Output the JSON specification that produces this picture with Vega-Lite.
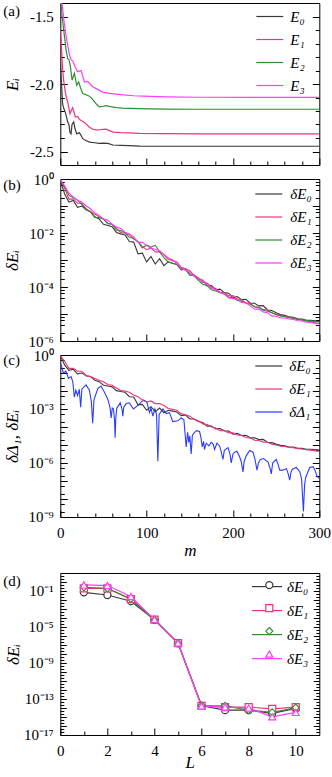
{
"$schema": "https://vega.github.io/schema/vega-lite/v6.json",
"background": "white",
"padding": {"left": 2.3, "top": 1, "right": 0, "bottom": 0},
"config": {
 "view": {"stroke": "#000", "strokeWidth": 1},
 "font": "Liberation Serif",
 "axis": {"grid": false, "domain": false, "labelFont": "Liberation Serif", "labelFontSize": 15, "labelColor": "#000", "titleFont": "Liberation Serif", "titleFontSize": 17, "titleFontWeight": "normal", "titleColor": "#000", "tickColor": "#000", "tickWidth": 1, "labelFlush": false, "labelOverlap": false, "minExtent": 0},
 "legend": {"labelFont": "Liberation Serif", "labelFontSize": 15, "labelFontStyle": "italic", "labelColor": "#000", "symbolStrokeWidth": 1.2, "padding": 0},
 "title": {"font": "Liberation Serif", "fontSize": 15, "fontWeight": "normal", "anchor": "start", "baseline": "top", "color": "#000", "frame": "group"}
},
"datasets": {
 "a": [
{"m":0,"s":"E₀","v":-1.84},{"m":1,"s":"E₀","v":-1.95},{"m":2.7,"s":"E₀","v":-2.15},{"m":4,"s":"E₀","v":-2.18},{"m":5.8,"s":"E₀","v":-2.21},{"m":7,"s":"E₀","v":-2.24},{"m":8.5,"s":"E₀","v":-2.28},{"m":10,"s":"E₀","v":-2.3},{"m":11.2,"s":"E₀","v":-2.36},{"m":12.4,"s":"E₀","v":-2.37},{"m":13.6,"s":"E₀","v":-2.3},{"m":15.5,"s":"E₀","v":-2.28},{"m":17,"s":"E₀","v":-2.33},{"m":19,"s":"E₀","v":-2.37},{"m":22,"s":"E₀","v":-2.36},{"m":24,"s":"E₀","v":-2.38},{"m":26,"s":"E₀","v":-2.405},{"m":30,"s":"E₀","v":-2.42},{"m":34,"s":"E₀","v":-2.43},{"m":40,"s":"E₀","v":-2.435},{"m":45,"s":"E₀","v":-2.44},{"m":50,"s":"E₀","v":-2.438},{"m":55,"s":"E₀","v":-2.44},{"m":61,"s":"E₀","v":-2.452},{"m":70,"s":"E₀","v":-2.455},{"m":80,"s":"E₀","v":-2.457},{"m":92,"s":"E₀","v":-2.46},{"m":120,"s":"E₀","v":-2.461},{"m":300,"s":"E₀","v":-2.461},
{"m":0,"s":"E₁","v":-1.59},{"m":1.5,"s":"E₁","v":-1.75},{"m":2.7,"s":"E₁","v":-1.89},{"m":4,"s":"E₁","v":-1.98},{"m":5.8,"s":"E₁","v":-2.06},{"m":7,"s":"E₁","v":-2.1},{"m":8.5,"s":"E₁","v":-2.13},{"m":10,"s":"E₁","v":-2.18},{"m":11.2,"s":"E₁","v":-2.22},{"m":12.5,"s":"E₁","v":-2.2},{"m":14.3,"s":"E₁","v":-2.175},{"m":16,"s":"E₁","v":-2.21},{"m":17.4,"s":"E₁","v":-2.245},{"m":20,"s":"E₁","v":-2.24},{"m":22,"s":"E₁","v":-2.26},{"m":24,"s":"E₁","v":-2.27},{"m":27,"s":"E₁","v":-2.28},{"m":29.8,"s":"E₁","v":-2.295},{"m":33.7,"s":"E₁","v":-2.32},{"m":38,"s":"E₁","v":-2.335},{"m":41.4,"s":"E₁","v":-2.34},{"m":47,"s":"E₁","v":-2.338},{"m":53,"s":"E₁","v":-2.335},{"m":57,"s":"E₁","v":-2.345},{"m":61,"s":"E₁","v":-2.356},{"m":70,"s":"E₁","v":-2.36},{"m":80,"s":"E₁","v":-2.362},{"m":92,"s":"E₁","v":-2.365},{"m":120,"s":"E₁","v":-2.368},{"m":160,"s":"E₁","v":-2.369},{"m":300,"s":"E₁","v":-2.369},
{"m":0,"s":"E₂","v":-1.3},{"m":0.8,"s":"E₂","v":-1.4},{"m":2.5,"s":"E₂","v":-1.52},{"m":4.7,"s":"E₂","v":-1.64},{"m":6.5,"s":"E₂","v":-1.74},{"m":8.5,"s":"E₂","v":-1.81},{"m":10,"s":"E₂","v":-1.82},{"m":11.5,"s":"E₂","v":-1.86},{"m":13.6,"s":"E₂","v":-1.97},{"m":16.3,"s":"E₂","v":-1.92},{"m":19,"s":"E₂","v":-2.01},{"m":21.3,"s":"E₂","v":-1.985},{"m":23.5,"s":"E₂","v":-2.03},{"m":26,"s":"E₂","v":-2.07},{"m":29.8,"s":"E₂","v":-2.08},{"m":33.7,"s":"E₂","v":-2.09},{"m":37,"s":"E₂","v":-2.11},{"m":39.5,"s":"E₂","v":-2.13},{"m":42,"s":"E₂","v":-2.15},{"m":45.3,"s":"E₂","v":-2.17},{"m":50,"s":"E₂","v":-2.165},{"m":53,"s":"E₂","v":-2.16},{"m":58,"s":"E₂","v":-2.168},{"m":65,"s":"E₂","v":-2.175},{"m":72.3,"s":"E₂","v":-2.178},{"m":90,"s":"E₂","v":-2.182},{"m":122,"s":"E₂","v":-2.186},{"m":160,"s":"E₂","v":-2.187},{"m":300,"s":"E₂","v":-2.187},
{"m":0,"s":"E₃","v":-1.2},{"m":2,"s":"E₃","v":-1.4},{"m":4,"s":"E₃","v":-1.52},{"m":6.6,"s":"E₃","v":-1.64},{"m":8.5,"s":"E₃","v":-1.71},{"m":10.5,"s":"E₃","v":-1.78},{"m":12.4,"s":"E₃","v":-1.82},{"m":14.5,"s":"E₃","v":-1.83},{"m":17,"s":"E₃","v":-1.87},{"m":20.1,"s":"E₃","v":-1.91},{"m":22,"s":"E₃","v":-1.905},{"m":24,"s":"E₃","v":-1.9},{"m":26,"s":"E₃","v":-1.94},{"m":27.9,"s":"E₃","v":-1.985},{"m":31.7,"s":"E₃","v":-1.98},{"m":34.5,"s":"E₃","v":-2.0},{"m":37.5,"s":"E₃","v":-2.02},{"m":43.3,"s":"E₃","v":-2.04},{"m":49,"s":"E₃","v":-2.06},{"m":56.9,"s":"E₃","v":-2.07},{"m":65,"s":"E₃","v":-2.075},{"m":72.3,"s":"E₃","v":-2.08},{"m":85,"s":"E₃","v":-2.087},{"m":95.5,"s":"E₃","v":-2.09},{"m":122,"s":"E₃","v":-2.095},{"m":160,"s":"E₃","v":-2.098},{"m":300,"s":"E₃","v":-2.099}
 ],
 "b": [
{"m":0,"s":"δE₀","v":0.93},{"m":5,"s":"δE₀","v":0.28},{"m":10,"s":"δE₀","v":0.14},{"m":15,"s":"δE₀","v":0.16},{"m":20,"s":"δE₀","v":0.089},{"m":25,"s":"δE₀","v":0.1},{"m":30,"s":"δE₀","v":0.071},{"m":35,"s":"δE₀","v":0.063},{"m":40,"s":"δE₀","v":0.04},{"m":45,"s":"δE₀","v":0.033},{"m":50,"s":"δE₀","v":0.021},{"m":55,"s":"δE₀","v":0.019},{"m":60,"s":"δE₀","v":0.017},{"m":65,"s":"δE₀","v":0.0105},{"m":70,"s":"δE₀","v":0.0093},{"m":75,"s":"δE₀","v":0.0085},{"m":80,"s":"δE₀","v":0.0048},{"m":85,"s":"δE₀","v":0.0046},{"m":90,"s":"δE₀","v":0.0017},{"m":95,"s":"δE₀","v":0.0018},{"m":100,"s":"δE₀","v":0.00085},{"m":105,"s":"δE₀","v":0.00135},{"m":110,"s":"δE₀","v":0.00071},{"m":115,"s":"δE₀","v":0.00112},{"m":120,"s":"δE₀","v":0.00062},{"m":125,"s":"δE₀","v":0.00085},{"m":130,"s":"δE₀","v":0.00076},{"m":135,"s":"δE₀","v":0.00068},{"m":140,"s":"δE₀","v":0.00043},{"m":145,"s":"δE₀","v":0.00047},{"m":150,"s":"δE₀","v":0.00028},{"m":155,"s":"δE₀","v":0.00028},{"m":160,"s":"δE₀","v":0.0002},{"m":165,"s":"δE₀","v":0.000178},{"m":170,"s":"δE₀","v":0.000112},{"m":175,"s":"δE₀","v":0.000112},{"m":180,"s":"δE₀","v":7.9e-5},{"m":185,"s":"δE₀","v":8.3e-5},{"m":190,"s":"δE₀","v":6.2e-5},{"m":195,"s":"δE₀","v":5.9e-5},{"m":200,"s":"δE₀","v":4e-5},{"m":205,"s":"δE₀","v":4.4e-5},{"m":210,"s":"δE₀","v":3.4e-5},{"m":215,"s":"δE₀","v":3.5e-5},{"m":220,"s":"δE₀","v":2.5e-5},{"m":225,"s":"δE₀","v":2.5e-5},{"m":230,"s":"δE₀","v":2e-5},{"m":235,"s":"δE₀","v":2.04e-5},{"m":240,"s":"δE₀","v":1.41e-5},{"m":245,"s":"δE₀","v":1.35e-5},{"m":250,"s":"δE₀","v":1.12e-5},{"m":255,"s":"δE₀","v":9.5e-6},{"m":260,"s":"δE₀","v":8.9e-6},{"m":265,"s":"δE₀","v":7.8e-6},{"m":270,"s":"δE₀","v":7.6e-6},{"m":275,"s":"δE₀","v":6.6e-6},{"m":280,"s":"δE₀","v":6.5e-6},{"m":285,"s":"δE₀","v":5.8e-6},{"m":290,"s":"δE₀","v":5.8e-6},{"m":295,"s":"δE₀","v":5.6e-6},{"m":300,"s":"δE₀","v":5.2e-6},
{"m":0,"s":"δE₁","v":0.93},{"m":5,"s":"δE₁","v":0.45},{"m":10,"s":"δE₁","v":0.18},{"m":15,"s":"δE₁","v":0.18},{"m":20,"s":"δE₁","v":0.126},{"m":25,"s":"δE₁","v":0.126},{"m":30,"s":"δE₁","v":0.071},{"m":35,"s":"δE₁","v":0.063},{"m":40,"s":"δE₁","v":0.05},{"m":45,"s":"δE₁","v":0.04},{"m":50,"s":"δE₁","v":0.033},{"m":55,"s":"δE₁","v":0.023},{"m":60,"s":"δE₁","v":0.021},{"m":65,"s":"δE₁","v":0.0148},{"m":70,"s":"δE₁","v":0.0105},{"m":75,"s":"δE₁","v":0.01},{"m":80,"s":"δE₁","v":0.0085},{"m":85,"s":"δE₁","v":0.006},{"m":90,"s":"δE₁","v":0.0048},{"m":95,"s":"δE₁","v":0.0032},{"m":100,"s":"δE₁","v":0.0024},{"m":105,"s":"δE₁","v":0.0028},{"m":110,"s":"δE₁","v":0.002},{"m":115,"s":"δE₁","v":0.002},{"m":120,"s":"δE₁","v":0.00155},{"m":125,"s":"δE₁","v":0.00107},{"m":130,"s":"δE₁","v":0.00095},{"m":135,"s":"δE₁","v":0.00085},{"m":140,"s":"δE₁","v":0.00054},{"m":145,"s":"δE₁","v":0.00047},{"m":150,"s":"δE₁","v":0.0004},{"m":155,"s":"δE₁","v":0.00027},{"m":160,"s":"δE₁","v":0.00022},{"m":165,"s":"δE₁","v":0.000148},{"m":170,"s":"δE₁","v":0.000141},{"m":175,"s":"δE₁","v":0.0001},{"m":180,"s":"δE₁","v":8.9e-5},{"m":185,"s":"δE₁","v":6.3e-5},{"m":190,"s":"δE₁","v":6.2e-5},{"m":195,"s":"δE₁","v":4.7e-5},{"m":200,"s":"δE₁","v":4.8e-5},{"m":205,"s":"δE₁","v":3.6e-5},{"m":210,"s":"δE₁","v":3.4e-5},{"m":215,"s":"δE₁","v":2.6e-5},{"m":220,"s":"δE₁","v":2.5e-5},{"m":225,"s":"δE₁","v":1.82e-5},{"m":230,"s":"δE₁","v":1.78e-5},{"m":235,"s":"δE₁","v":1.45e-5},{"m":240,"s":"δE₁","v":1.41e-5},{"m":245,"s":"δE₁","v":1.12e-5},{"m":250,"s":"δE₁","v":1e-5},{"m":255,"s":"δE₁","v":8.5e-6},{"m":260,"s":"δE₁","v":8.3e-6},{"m":265,"s":"δE₁","v":7.2e-6},{"m":270,"s":"δE₁","v":7.1e-6},{"m":275,"s":"δE₁","v":6.3e-6},{"m":280,"s":"δE₁","v":6e-6},{"m":285,"s":"δE₁","v":5.5e-6},{"m":290,"s":"δE₁","v":5.1e-6},{"m":295,"s":"δE₁","v":4.7e-6},{"m":300,"s":"δE₁","v":4.5e-6},
{"m":0,"s":"δE₂","v":0.93},{"m":5,"s":"δE₂","v":0.52},{"m":10,"s":"δE₂","v":0.25},{"m":15,"s":"δE₂","v":0.2},{"m":20,"s":"δE₂","v":0.166},{"m":25,"s":"δE₂","v":0.112},{"m":30,"s":"δE₂","v":0.079},{"m":35,"s":"δE₂","v":0.059},{"m":40,"s":"δE₂","v":0.038},{"m":45,"s":"δE₂","v":0.037},{"m":50,"s":"δE₂","v":0.033},{"m":55,"s":"δE₂","v":0.022},{"m":60,"s":"δE₂","v":0.021},{"m":65,"s":"δE₂","v":0.013},{"m":70,"s":"δE₂","v":0.0123},{"m":75,"s":"δE₂","v":0.0102},{"m":80,"s":"δE₂","v":0.0068},{"m":85,"s":"δE₂","v":0.0065},{"m":90,"s":"δE₂","v":0.0048},{"m":95,"s":"δE₂","v":0.0028},{"m":100,"s":"δE₂","v":0.0036},{"m":105,"s":"δE₂","v":0.003},{"m":110,"s":"δE₂","v":0.0035},{"m":115,"s":"δE₂","v":0.002},{"m":120,"s":"δE₂","v":0.00123},{"m":125,"s":"δE₂","v":0.00085},{"m":130,"s":"δE₂","v":0.00076},{"m":135,"s":"δE₂","v":0.00068},{"m":140,"s":"δE₂","v":0.00048},{"m":145,"s":"δE₂","v":0.00044},{"m":150,"s":"δE₂","v":0.00028},{"m":155,"s":"δE₂","v":0.00026},{"m":160,"s":"δE₂","v":0.000178},{"m":165,"s":"δE₂","v":0.000126},{"m":170,"s":"δE₂","v":0.000112},{"m":175,"s":"δE₂","v":7.9e-5},{"m":180,"s":"δE₂","v":7.1e-5},{"m":185,"s":"δE₂","v":6.2e-5},{"m":190,"s":"δE₂","v":5.5e-5},{"m":195,"s":"δE₂","v":4.2e-5},{"m":200,"s":"δE₂","v":4e-5},{"m":205,"s":"δE₂","v":3.2e-5},{"m":210,"s":"δE₂","v":3e-5},{"m":215,"s":"δE₂","v":2.5e-5},{"m":220,"s":"δE₂","v":2.3e-5},{"m":225,"s":"δE₂","v":1.9e-5},{"m":230,"s":"δE₂","v":1.74e-5},{"m":235,"s":"δE₂","v":1.38e-5},{"m":240,"s":"δE₂","v":1.26e-5},{"m":245,"s":"δE₂","v":1.12e-5},{"m":250,"s":"δE₂","v":9.3e-6},{"m":255,"s":"δE₂","v":8.5e-6},{"m":260,"s":"δE₂","v":7.9e-6},{"m":265,"s":"δE₂","v":7.6e-6},{"m":270,"s":"δE₂","v":6.8e-6},{"m":275,"s":"δE₂","v":6.3e-6},{"m":280,"s":"δE₂","v":6e-6},{"m":285,"s":"δE₂","v":5.8e-6},{"m":290,"s":"δE₂","v":5.5e-6},{"m":295,"s":"δE₂","v":5.2e-6},{"m":300,"s":"δE₂","v":5.2e-6},
{"m":0,"s":"δE₃","v":0.98},{"m":5,"s":"δE₃","v":0.56},{"m":10,"s":"δE₃","v":0.3},{"m":15,"s":"δE₃","v":0.22},{"m":20,"s":"δE₃","v":0.16},{"m":25,"s":"δE₃","v":0.14},{"m":30,"s":"δE₃","v":0.1},{"m":35,"s":"δE₃","v":0.079},{"m":40,"s":"δE₃","v":0.056},{"m":45,"s":"δE₃","v":0.045},{"m":50,"s":"δE₃","v":0.033},{"m":55,"s":"δE₃","v":0.03},{"m":60,"s":"δE₃","v":0.021},{"m":65,"s":"δE₃","v":0.0166},{"m":70,"s":"δE₃","v":0.0148},{"m":75,"s":"δE₃","v":0.0107},{"m":80,"s":"δE₃","v":0.0091},{"m":85,"s":"δE₃","v":0.0072},{"m":90,"s":"δE₃","v":0.0045},{"m":95,"s":"δE₃","v":0.0045},{"m":100,"s":"δE₃","v":0.0034},{"m":105,"s":"δE₃","v":0.0027},{"m":110,"s":"δE₃","v":0.0025},{"m":115,"s":"δE₃","v":0.0022},{"m":120,"s":"δE₃","v":0.00166},{"m":125,"s":"δE₃","v":0.0012},{"m":130,"s":"δE₃","v":0.00102},{"m":135,"s":"δE₃","v":0.00076},{"m":140,"s":"δE₃","v":0.00048},{"m":145,"s":"δE₃","v":0.00042},{"m":150,"s":"δE₃","v":0.00035},{"m":155,"s":"δE₃","v":0.00025},{"m":160,"s":"δE₃","v":0.00021},{"m":165,"s":"δE₃","v":0.000178},{"m":170,"s":"δE₃","v":0.000126},{"m":175,"s":"δE₃","v":8.9e-5},{"m":180,"s":"δE₃","v":7.9e-5},{"m":185,"s":"δE₃","v":6.2e-5},{"m":190,"s":"δE₃","v":5.5e-5},{"m":195,"s":"δE₃","v":3.9e-5},{"m":200,"s":"δE₃","v":3.7e-5},{"m":205,"s":"δE₃","v":3.5e-5},{"m":210,"s":"δE₃","v":2.7e-5},{"m":215,"s":"δE₃","v":2.6e-5},{"m":220,"s":"δE₃","v":2e-5},{"m":225,"s":"δE₃","v":1.5e-5},{"m":230,"s":"δE₃","v":1.55e-5},{"m":235,"s":"δE₃","v":1.2e-5},{"m":240,"s":"δE₃","v":1.12e-5},{"m":245,"s":"δE₃","v":8.5e-6},{"m":250,"s":"δE₃","v":8.3e-6},{"m":255,"s":"δE₃","v":7.1e-6},{"m":260,"s":"δE₃","v":7.1e-6},{"m":265,"s":"δE₃","v":6.5e-6},{"m":270,"s":"δE₃","v":6.3e-6},{"m":275,"s":"δE₃","v":5.6e-6},{"m":280,"s":"δE₃","v":5.5e-6},{"m":285,"s":"δE₃","v":5e-6},{"m":290,"s":"δE₃","v":4.9e-6},{"m":295,"s":"δE₃","v":4.5e-6},{"m":300,"s":"δE₃","v":4.4e-6}
 ],
 "blue": [
{"m":0,"s":"δΔ₁","v":0.32},{"m":1,"s":"δΔ₁","v":0.28},{"m":3.5,"s":"δΔ₁","v":0.1},{"m":6.5,"s":"δΔ₁","v":0.126},{"m":9.5,"s":"δΔ₁","v":0.05},{"m":12.5,"s":"δΔ₁","v":0.063},{"m":14.5,"s":"δΔ₁","v":0.032},{"m":16.3,"s":"δΔ₁","v":0.0045},{"m":18,"s":"δΔ₁","v":0.0112},{"m":20,"s":"δΔ₁","v":0.0056},{"m":22,"s":"δΔ₁","v":0.0126},{"m":23.6,"s":"δΔ₁","v":0.00126},{"m":25,"s":"δΔ₁","v":0.0126},{"m":29.8,"s":"δΔ₁","v":0.022},{"m":33.7,"s":"δΔ₁","v":0.0112},{"m":36,"s":"δΔ₁","v":0.0025},{"m":37.5,"s":"δΔ₁","v":0.00016},{"m":39,"s":"δΔ₁","v":0.0032},{"m":43.4,"s":"δΔ₁","v":0.0135},{"m":47.2,"s":"δΔ₁","v":0.019},{"m":51,"s":"δΔ₁","v":0.0089},{"m":55,"s":"δΔ₁","v":0.0035},{"m":57.5,"s":"δΔ₁","v":0.00126},{"m":58.9,"s":"δΔ₁","v":0.00032},{"m":60.2,"s":"δΔ₁","v":0.00112},{"m":61.6,"s":"δΔ₁","v":0.001},{"m":62.8,"s":"δΔ₁","v":0.00025},{"m":63.5,"s":"δΔ₁","v":2.5e-5},{"m":64.3,"s":"δΔ₁","v":0.00032},{"m":65.4,"s":"δΔ₁","v":0.00112},{"m":69.4,"s":"δΔ₁","v":0.0022},{"m":71.5,"s":"δΔ₁","v":0.001},{"m":72.4,"s":"δΔ₁","v":0.0004},{"m":73.5,"s":"δΔ₁","v":0.00126},{"m":76.2,"s":"δΔ₁","v":0.002},{"m":80,"s":"δΔ₁","v":0.0022},{"m":84.7,"s":"δΔ₁","v":0.001},{"m":89.8,"s":"δΔ₁","v":0.00158},{"m":96.3,"s":"δΔ₁","v":0.0032},{"m":100.2,"s":"δΔ₁","v":0.0025},{"m":103.3,"s":"δΔ₁","v":0.00063},{"m":105,"s":"δΔ₁","v":0.00112},{"m":107.2,"s":"δΔ₁","v":0.0004},{"m":109.5,"s":"δΔ₁","v":0.001},{"m":111.5,"s":"δΔ₁","v":0.0005},{"m":113,"s":"δΔ₁","v":1.26e-6},{"m":114.5,"s":"δΔ₁","v":0.0005},{"m":118.8,"s":"δΔ₁","v":0.001},{"m":122.6,"s":"δΔ₁","v":0.00056},{"m":126.5,"s":"δΔ₁","v":0.00063},{"m":130.3,"s":"δΔ₁","v":0.0002},{"m":136.2,"s":"δΔ₁","v":0.00022},{"m":140,"s":"δΔ₁","v":0.00032},{"m":143.2,"s":"δΔ₁","v":0.00025},{"m":145.8,"s":"δΔ₁","v":7.9e-6},{"m":147.5,"s":"δΔ₁","v":5e-5},{"m":148.9,"s":"δΔ₁","v":1.41e-5},{"m":150,"s":"δΔ₁","v":3.2e-5},{"m":151.6,"s":"δΔ₁","v":3.2e-6},{"m":153,"s":"δΔ₁","v":3.5e-5},{"m":155.5,"s":"δΔ₁","v":5e-5},{"m":158,"s":"δΔ₁","v":6.3e-5},{"m":161.3,"s":"δΔ₁","v":5.6e-5},{"m":163,"s":"δΔ₁","v":2.5e-5},{"m":164.4,"s":"δΔ₁","v":7.9e-6},{"m":166,"s":"δΔ₁","v":1.58e-5},{"m":167,"s":"δΔ₁","v":5.6e-6},{"m":169,"s":"δΔ₁","v":1.26e-5},{"m":172.1,"s":"δΔ₁","v":8.9e-6},{"m":174.8,"s":"δΔ₁","v":1.41e-5},{"m":177,"s":"δΔ₁","v":1.12e-5},{"m":178.7,"s":"δΔ₁","v":5.6e-6},{"m":181.4,"s":"δΔ₁","v":1.26e-5},{"m":184.5,"s":"δΔ₁","v":8.9e-6},{"m":186.5,"s":"δΔ₁","v":4e-6},{"m":188.4,"s":"δΔ₁","v":1.58e-6},{"m":190,"s":"δΔ₁","v":5e-6},{"m":194.2,"s":"δΔ₁","v":7.1e-6},{"m":196.5,"s":"δΔ₁","v":3.2e-6},{"m":198,"s":"δΔ₁","v":1e-6},{"m":200,"s":"δΔ₁","v":3.2e-6},{"m":202,"s":"δΔ₁","v":4e-6},{"m":204.6,"s":"δΔ₁","v":4.5e-6},{"m":207.7,"s":"δΔ₁","v":2.2e-6},{"m":209.5,"s":"δΔ₁","v":1.26e-6},{"m":211.6,"s":"δΔ₁","v":3.2e-7},{"m":213,"s":"δΔ₁","v":1.26e-6},{"m":215.4,"s":"δΔ₁","v":2.5e-6},{"m":219.3,"s":"δΔ₁","v":5e-6},{"m":223.2,"s":"δΔ₁","v":4e-6},{"m":225.5,"s":"δΔ₁","v":1.58e-6},{"m":227.8,"s":"δΔ₁","v":4e-7},{"m":229.5,"s":"δΔ₁","v":1e-6},{"m":231.7,"s":"δΔ₁","v":1.58e-6},{"m":235.5,"s":"δΔ₁","v":1.78e-6},{"m":240.6,"s":"δΔ₁","v":1.12e-6},{"m":243,"s":"δΔ₁","v":5e-7},{"m":244.4,"s":"δΔ₁","v":2.5e-7},{"m":246,"s":"δΔ₁","v":1e-6},{"m":250.2,"s":"δΔ₁","v":1.58e-6},{"m":252.5,"s":"δΔ₁","v":7.9e-7},{"m":254.1,"s":"δΔ₁","v":4e-7},{"m":258,"s":"δΔ₁","v":4e-7},{"m":261.8,"s":"δΔ₁","v":5e-7},{"m":264,"s":"δΔ₁","v":2.5e-7},{"m":265.7,"s":"δΔ₁","v":1.12e-7},{"m":267.3,"s":"δΔ₁","v":3.2e-7},{"m":268.8,"s":"δΔ₁","v":4.5e-7},{"m":273.4,"s":"δΔ₁","v":5.6e-7},{"m":277.5,"s":"δΔ₁","v":3.2e-7},{"m":279.5,"s":"δΔ₁","v":1.26e-7},{"m":281.6,"s":"δΔ₁","v":2e-9},{"m":283,"s":"δΔ₁","v":6.3e-8},{"m":284.2,"s":"δΔ₁","v":1.58e-7},{"m":288.9,"s":"δΔ₁","v":5.6e-7},{"m":292.8,"s":"δΔ₁","v":6.3e-7},{"m":295,"s":"δΔ₁","v":4e-7},{"m":297.4,"s":"δΔ₁","v":1.78e-7},{"m":300,"s":"δΔ₁","v":1.41e-7}
 ],
 "d": [
{"L":1,"s":"δE₀","v":0.072},{"L":2,"s":"δE₀","v":0.036},{"L":3,"s":"δE₀","v":0.0074},{"L":4,"s":"δE₀","v":6.3e-5},{"L":5,"s":"δE₀","v":1.58e-7},{"L":6,"s":"δE₀","v":1.74e-14},{"L":7,"s":"δE₀","v":5.8e-15},{"L":8,"s":"δE₀","v":5.8e-15},{"L":9,"s":"δE₀","v":2.5e-15},{"L":10,"s":"δE₀","v":8.9e-15},
{"L":1,"s":"δE₁","v":0.2},{"L":2,"s":"δE₁","v":0.19},{"L":3,"s":"δE₁","v":0.0126},{"L":4,"s":"δE₁","v":6.5e-5},{"L":5,"s":"δE₁","v":1.6e-7},{"L":6,"s":"δE₁","v":1.74e-14},{"L":7,"s":"δE₁","v":1.26e-14},{"L":8,"s":"δE₁","v":1.26e-14},{"L":9,"s":"δE₁","v":7.9e-15},{"L":10,"s":"δE₁","v":1.26e-14},
{"L":1,"s":"δE₂","v":0.26},{"L":2,"s":"δE₂","v":0.2},{"L":3,"s":"δE₂","v":0.0132},{"L":4,"s":"δE₂","v":6.3e-5},{"L":5,"s":"δE₂","v":1.6e-7},{"L":6,"s":"δE₂","v":1.8e-14},{"L":7,"s":"δE₂","v":1.74e-14},{"L":8,"s":"δE₂","v":5.8e-15},{"L":9,"s":"δE₂","v":3.2e-15},{"L":10,"s":"δE₂","v":1.07e-14},
{"L":1,"s":"δE₃","v":0.47},{"L":2,"s":"δE₃","v":0.4},{"L":3,"s":"δE₃","v":0.024},{"L":4,"s":"δE₃","v":6.6e-5},{"L":5,"s":"δE₃","v":1.65e-7},{"L":6,"s":"δE₃","v":1.6e-14},{"L":7,"s":"δE₃","v":1.26e-14},{"L":8,"s":"δE₃","v":1e-14},{"L":9,"s":"δE₃","v":1.05e-15},{"L":10,"s":"δE₃","v":3.2e-15}
 ]
},
"spacing": 10,
"bounds": "full",
"resolve": {"scale": {"color": "independent", "shape": "independent"}, "legend": {"color": "independent", "shape": "independent"}},
"vconcat": [
 {
  "spacing": 14,
  "bounds": "flush",
  "resolve": {"scale": {"color": "independent"}, "legend": {"color": "independent"}},
  "vconcat": [
   {
    "width": 259, "height": 162,
    "title": {"text": "(a)", "dx": -57, "offset": -17},
    "data": {"name": "a"},
    "layer": [
     {"mark": {"type": "line", "clip": true, "strokeWidth": 1.2},
      "encoding": {
       "x": {"field": "m", "type": "quantitative", "scale": {"domain": [0, 300], "nice": false, "zero": false}, "axis": null},
       "y": {"field": "v", "type": "quantitative", "scale": {"domain": [-2.6, -1.4], "nice": false, "zero": false},
             "axis": {"orient": "left", "values": [-1.5, -2, -2.5], "labelExpr": "replace(format(datum.value, '.1f'), '−', '-')", "ticks": false, "labelPadding": 7, "title": "Eᵢ", "titleFontStyle": "italic", "titlePadding": 8}},
       "color": {"field": "s", "type": "nominal", "scale": {"domain": ["E₀", "E₁", "E₂", "E₃"], "range": ["#3a3a3a", "#f0317f", "#2f8f2f", "#ff3cff"]},
                 "legend": {"orient": "none", "legendX": 195, "legendY": -1, "symbolType": "stroke", "symbolSize": 729, "rowPadding": -7, "labelOffset": 6, "title": null}}
      }},
     {"mark": {"type": "point", "opacity": 0, "clip": true},
      "encoding": {
       "x": {"field": "m", "type": "quantitative", "scale": {"domain": [0, 300], "nice": false, "zero": false}, "axis": {"orient": "bottom", "values": [0, 100, 200, 300], "labels": false, "tickSize": -7, "title": null}},
       "y": {"field": "v", "type": "quantitative", "scale": {"domain": [-2.6, -1.4], "nice": false, "zero": false}, "axis": {"orient": "left", "values": [-1.5, -2, -2.5], "labels": false, "tickSize": -7, "title": null}}
      }},
     {"mark": {"type": "point", "opacity": 0, "clip": true},
      "encoding": {
       "x": {"field": "m", "type": "quantitative", "scale": {"domain": [0, 300], "nice": false, "zero": false}, "axis": {"orient": "bottom", "values": [20, 40, 60, 80, 120, 140, 160, 180, 220, 240, 260, 280], "labels": false, "tickSize": -4, "title": null}},
       "y": {"field": "v", "type": "quantitative", "scale": {"domain": [-2.6, -1.4], "nice": false, "zero": false}, "axis": {"orient": "left", "values": [-1.6, -1.7, -1.8, -1.9, -2.1, -2.2, -2.3, -2.4], "labels": false, "tickSize": -4, "title": null}}
      }},
     {"mark": {"type": "point", "opacity": 0, "clip": true},
      "encoding": {
       "x": {"field": "m", "type": "quantitative", "scale": {"domain": [0, 300], "nice": false, "zero": false}, "axis": null},
       "y": {"field": "v", "type": "quantitative", "scale": {"domain": [-2.6, -1.4], "nice": false, "zero": false}, "axis": {"orient": "right", "values": [-1.5, -2, -2.5], "labels": false, "tickSize": -7, "title": null}}
      }},
     {"mark": {"type": "point", "opacity": 0, "clip": true},
      "encoding": {
       "x": {"field": "m", "type": "quantitative", "scale": {"domain": [0, 300], "nice": false, "zero": false}, "axis": null},
       "y": {"field": "v", "type": "quantitative", "scale": {"domain": [-2.6, -1.4], "nice": false, "zero": false}, "axis": {"orient": "right", "values": [-1.6, -1.7, -1.8, -1.9, -2.1, -2.2, -2.3, -2.4], "labels": false, "tickSize": -4, "title": null}}
      }}
    ],
    "resolve": {"axis": {"x": "independent", "y": "independent"}}
   },
   {
    "width": 259, "height": 162,
    "title": {"text": "(b)", "dx": -57, "offset": -20.5},
    "data": {"name": "b"},
    "layer": [
     {"mark": {"type": "line", "clip": true, "strokeWidth": 1.1},
      "encoding": {
       "x": {"field": "m", "type": "quantitative", "scale": {"domain": [0, 300], "nice": false, "zero": false}, "axis": null},
       "y": {"field": "v", "type": "quantitative", "scale": {"type": "log", "domain": [1e-6, 1], "nice": false},
             "axis": {"orient": "left", "values": [1, 0.01, 0.0001, 0.000001], "labelExpr": "'10' + replace(replace(replace(replace(replace(replace(replace(replace(replace(replace(replace('' + round(log(datum.value) / LN10), '-', '⁻'), '0', '⁰'), '1', '¹'), '2', '²'), '3', '³'), '4', '⁴'), '5', '⁵'), '6', '⁶'), '7', '⁷'), '8', '⁸'), '9', '⁹')", "ticks": false, "labelPadding": 7, "title": "δEᵢ", "titleFontStyle": "italic", "titlePadding": 7}},
       "color": {"field": "s", "type": "nominal", "scale": {"domain": ["δE₀", "δE₁", "δE₂", "δE₃"], "range": ["#3a3a3a", "#f0317f", "#2f8f2f", "#ff3cff"]},
                 "legend": {"orient": "none", "legendX": 194, "legendY": 0.5, "symbolType": "stroke", "symbolSize": 729, "rowPadding": -5, "labelOffset": 7, "title": null}}
      }},
     {"mark": {"type": "point", "opacity": 0, "clip": true},
      "encoding": {
       "x": {"field": "m", "type": "quantitative", "scale": {"domain": [0, 300], "nice": false, "zero": false}, "axis": {"orient": "bottom", "values": [0, 100, 200, 300], "labels": false, "tickSize": -7, "title": null}},
       "y": {"field": "v", "type": "quantitative", "scale": {"type": "log", "domain": [1e-6, 1], "nice": false}, "axis": {"orient": "left", "values": [1, 0.1, 0.01, 0.001, 0.0001, 0.00001, 0.000001], "labels": false, "tickSize": -7, "title": null}}
      }},
     {"mark": {"type": "point", "opacity": 0, "clip": true},
      "encoding": {
       "x": {"field": "m", "type": "quantitative", "scale": {"domain": [0, 300], "nice": false, "zero": false}, "axis": {"orient": "bottom", "values": [20, 40, 60, 80, 120, 140, 160, 180, 220, 240, 260, 280], "labels": false, "tickSize": -4, "title": null}},
       "y": {"field": "v", "type": "quantitative", "scale": {"type": "log", "domain": [1e-6, 1], "nice": false}, "axis": {"orient": "left", "values": [0.8, 0.6, 0.4, 0.2, 0.08, 0.06, 0.04, 0.02, 0.008, 0.006, 0.004, 0.002, 0.0008, 0.0006, 0.0004, 0.0002, 8e-5, 6e-5, 4e-5, 2e-5, 8e-6, 6e-6, 4e-6, 2e-6], "labels": false, "tickSize": -4, "title": null}}
      }},
     {"mark": {"type": "point", "opacity": 0, "clip": true},
      "encoding": {
       "x": {"field": "m", "type": "quantitative", "scale": {"domain": [0, 300], "nice": false, "zero": false}, "axis": null},
       "y": {"field": "v", "type": "quantitative", "scale": {"type": "log", "domain": [1e-6, 1], "nice": false}, "axis": {"orient": "right", "values": [1, 0.1, 0.01, 0.001, 0.0001, 0.00001, 0.000001], "labels": false, "tickSize": -7, "title": null}}
      }},
     {"mark": {"type": "point", "opacity": 0, "clip": true},
      "encoding": {
       "x": {"field": "m", "type": "quantitative", "scale": {"domain": [0, 300], "nice": false, "zero": false}, "axis": null},
       "y": {"field": "v", "type": "quantitative", "scale": {"type": "log", "domain": [1e-6, 1], "nice": false}, "axis": {"orient": "right", "values": [0.8, 0.6, 0.4, 0.2, 0.08, 0.06, 0.04, 0.02, 0.008, 0.006, 0.004, 0.002, 0.0008, 0.0006, 0.0004, 0.0002, 8e-5, 6e-5, 4e-5, 2e-5, 8e-6, 6e-6, 4e-6, 2e-6], "labels": false, "tickSize": -4, "title": null}}
      }}
    ],
    "resolve": {"axis": {"x": "independent", "y": "independent"}}
   },
   {
    "width": 259, "height": 162,
    "title": {"text": "(c)", "dx": -57, "offset": -20},
    "layer": [
     {"data": {"name": "blue"},
      "mark": {"type": "line", "clip": true, "strokeWidth": 1.1},
      "encoding": {
       "x": {"field": "m", "type": "quantitative", "scale": {"domain": [0, 300], "nice": false, "zero": false}, "axis": null},
       "y": {"field": "v", "type": "quantitative", "scale": {"type": "log", "domain": [1e-9, 1], "nice": false}, "axis": null},
       "color": {"field": "s", "type": "nominal", "scale": {"domain": ["δE₀", "δE₁", "δΔ₁"], "range": ["#3a3a3a", "#f0317f", "#2a3cff"]},
                 "legend": {"orient": "none", "legendX": 194, "legendY": -3.5, "symbolType": "stroke", "symbolSize": 729, "rowPadding": -6, "labelOffset": 6, "title": null}}
      }},
     {"data": {"name": "b"},
      "transform": [{"filter": {"field": "s", "oneOf": ["δE₀", "δE₁"]}}],
      "mark": {"type": "line", "clip": true, "strokeWidth": 1.1},
      "encoding": {
       "x": {"field": "m", "type": "quantitative", "scale": {"domain": [0, 300], "nice": false, "zero": false},
             "axis": {"orient": "bottom", "values": [0, 100, 200, 300], "ticks": false, "labelPadding": 9, "title": "m", "titleFontStyle": "italic", "titlePadding": 2}},
       "y": {"field": "v", "type": "quantitative", "scale": {"type": "log", "domain": [1e-9, 1], "nice": false},
             "axis": {"orient": "left", "values": [1, 0.001, 0.000001, 1e-9], "labelExpr": "'10' + replace(replace(replace(replace(replace(replace(replace(replace(replace(replace(replace('' + round(log(datum.value) / LN10), '-', '⁻'), '0', '⁰'), '1', '¹'), '2', '²'), '3', '³'), '4', '⁴'), '5', '⁵'), '6', '⁶'), '7', '⁷'), '8', '⁸'), '9', '⁹')", "ticks": false, "labelPadding": 7, "title": "δΔ₁, δEᵢ", "titleFontStyle": "italic", "titlePadding": 7}},
       "color": {"field": "s", "type": "nominal", "scale": {"domain": ["δE₀", "δE₁", "δΔ₁"], "range": ["#3a3a3a", "#f0317f", "#2a3cff"]}}
      }},
     {"data": {"name": "blue"},
      "mark": {"type": "point", "opacity": 0, "clip": true},
      "encoding": {
       "x": {"field": "m", "type": "quantitative", "scale": {"domain": [0, 300], "nice": false, "zero": false}, "axis": {"orient": "bottom", "values": [0, 100, 200, 300], "labels": false, "tickSize": -7, "title": null}},
       "y": {"field": "v", "type": "quantitative", "scale": {"type": "log", "domain": [1e-9, 1], "nice": false}, "axis": {"orient": "left", "values": [1, 0.1, 0.01, 0.001, 0.0001, 0.00001, 0.000001, 1e-7, 1e-8, 1e-9], "labels": false, "tickSize": -7, "title": null}}
      }},
     {"data": {"name": "blue"},
      "mark": {"type": "point", "opacity": 0, "clip": true},
      "encoding": {
       "x": {"field": "m", "type": "quantitative", "scale": {"domain": [0, 300], "nice": false, "zero": false}, "axis": {"orient": "bottom", "values": [20, 40, 60, 80, 120, 140, 160, 180, 220, 240, 260, 280], "labels": false, "tickSize": -4, "title": null}},
       "y": {"field": "v", "type": "quantitative", "scale": {"type": "log", "domain": [1e-9, 1], "nice": false}, "axis": {"orient": "left", "values": [0.5, 0.2, 0.05, 0.02, 0.005, 0.002, 0.0005, 0.0002, 5e-5, 2e-5, 5e-6, 2e-6, 5e-7, 2e-7, 5e-8, 2e-8, 5e-9, 2e-9], "labels": false, "tickSize": -4, "title": null}}
      }},
     {"data": {"name": "blue"},
      "mark": {"type": "point", "opacity": 0, "clip": true},
      "encoding": {
       "x": {"field": "m", "type": "quantitative", "scale": {"domain": [0, 300], "nice": false, "zero": false}, "axis": null},
       "y": {"field": "v", "type": "quantitative", "scale": {"type": "log", "domain": [1e-9, 1], "nice": false}, "axis": {"orient": "right", "values": [1, 0.1, 0.01, 0.001, 0.0001, 0.00001, 0.000001, 1e-7, 1e-8, 1e-9], "labels": false, "tickSize": -7, "title": null}}
      }},
     {"data": {"name": "blue"},
      "mark": {"type": "point", "opacity": 0, "clip": true},
      "encoding": {
       "x": {"field": "m", "type": "quantitative", "scale": {"domain": [0, 300], "nice": false, "zero": false}, "axis": null},
       "y": {"field": "v", "type": "quantitative", "scale": {"type": "log", "domain": [1e-9, 1], "nice": false}, "axis": {"orient": "right", "values": [0.5, 0.2, 0.05, 0.02, 0.005, 0.002, 0.0005, 0.0002, 5e-5, 2e-5, 5e-6, 2e-6, 5e-7, 2e-7, 5e-8, 2e-8, 5e-9, 2e-9], "labels": false, "tickSize": -4, "title": null}}
      }}
    ],
    "resolve": {"axis": {"x": "independent", "y": "independent"}}
   }
  ]
 },
 {
  "width": 259, "height": 162,
  "title": {"text": "(d)", "dx": -57, "offset": -18.6},
  "data": {"name": "d"},
  "layer": [
   {"mark": {"type": "line", "strokeWidth": 1.2},
    "encoding": {
     "x": {"field": "L", "type": "quantitative", "scale": {"domain": [0, 11], "nice": false, "zero": false},
           "axis": {"orient": "bottom", "values": [0, 2, 4, 6, 8, 10], "ticks": false, "labelPadding": 9, "title": "L", "titleFontStyle": "italic", "titlePadding": -4}},
     "y": {"field": "v", "type": "quantitative", "scale": {"type": "log", "domain": [1e-17, 10], "nice": false},
           "axis": {"orient": "left", "values": [0.1, 1e-5, 1e-9, 1e-13, 1e-17], "labelExpr": "'10' + replace(replace(replace(replace(replace(replace(replace(replace(replace(replace(replace('' + round(log(datum.value) / LN10), '-', '⁻'), '0', '⁰'), '1', '¹'), '2', '²'), '3', '³'), '4', '⁴'), '5', '⁵'), '6', '⁶'), '7', '⁷'), '8', '⁸'), '9', '⁹')", "ticks": false, "labelPadding": 7, "title": "δEᵢ", "titleFontStyle": "italic", "titlePadding": 1}},
     "color": {"field": "s", "type": "nominal", "scale": {"domain": ["δE₀", "δE₁", "δE₂", "δE₃"], "range": ["#3a3a3a", "#f0317f", "#2f8f2f", "#ff3cff"]},
               "legend": {"orient": "none", "legendX": 190.7, "legendY": -2.4, "symbolType": "stroke", "symbolSize": 900, "rowPadding": -8, "labelOffset": 4, "title": null}}
    }},
   {"mark": {"type": "point", "filled": false, "fill": "white", "size": 50, "strokeWidth": 1.2, "opacity": 1},
    "encoding": {
     "x": {"field": "L", "type": "quantitative", "scale": {"domain": [0, 11], "nice": false, "zero": false}, "axis": null},
     "y": {"field": "v", "type": "quantitative", "scale": {"type": "log", "domain": [1e-17, 10], "nice": false}, "axis": null},
     "color": {"field": "s", "type": "nominal", "scale": {"domain": ["δE₀", "δE₁", "δE₂", "δE₃"], "range": ["#3a3a3a", "#f0317f", "#2f8f2f", "#ff3cff"]},
               "legend": {"orient": "none", "legendX": 201.5, "legendY": 4.6, "symbolSize": 50, "rowPadding": 7, "labelExpr": "''", "symbolFillColor": "white", "title": null}},
     "shape": {"field": "s", "type": "nominal", "scale": {"domain": ["δE₀", "δE₁", "δE₂", "δE₃"], "range": ["circle", "square", "diamond", "triangle-up"]},
               "legend": {"orient": "none", "legendX": 201.5, "legendY": 4.6, "symbolSize": 50, "rowPadding": 7, "labelExpr": "''", "symbolFillColor": "white", "title": null}}
    }},
   {"mark": {"type": "point", "opacity": 0, "clip": true},
    "encoding": {
     "x": {"field": "L", "type": "quantitative", "scale": {"domain": [0, 11], "nice": false, "zero": false}, "axis": {"orient": "bottom", "values": [0, 2, 4, 6, 8, 10], "labels": false, "tickSize": -7, "title": null}},
     "y": {"field": "v", "type": "quantitative", "scale": {"type": "log", "domain": [1e-17, 10], "nice": false}, "axis": {"orient": "left", "values": [10, 1, 0.1, 0.01, 0.001, 1e-4, 1e-5, 1e-6, 1e-7, 1e-8, 1e-9, 1e-10, 1e-11, 1e-12, 1e-13, 1e-14, 1e-15, 1e-16, 1e-17], "labels": false, "tickSize": -6, "title": null}}
    }},
   {"mark": {"type": "point", "opacity": 0, "clip": true},
    "encoding": {
     "x": {"field": "L", "type": "quantitative", "scale": {"domain": [0, 11], "nice": false, "zero": false}, "axis": {"orient": "bottom", "values": [1, 3, 5, 7, 9], "labels": false, "tickSize": -4, "title": null}},
     "y": {"field": "v", "type": "quantitative", "scale": {"type": "log", "domain": [1e-17, 10], "nice": false}, "axis": {"orient": "left", "values": [5, 2, 0.5, 0.2, 0.05, 0.02, 0.005, 0.002, 5e-4, 2e-4, 5e-5, 2e-5, 5e-6, 2e-6, 5e-7, 2e-7, 5e-8, 2e-8, 5e-9, 2e-9, 5e-10, 2e-10, 5e-11, 2e-11, 5e-12, 2e-12, 5e-13, 2e-13, 5e-14, 2e-14, 5e-15, 2e-15, 5e-16, 2e-16, 5e-17, 2e-17], "labels": false, "tickSize": -3.5, "title": null}}
    }},
   {"mark": {"type": "point", "opacity": 0, "clip": true},
    "encoding": {
     "x": {"field": "L", "type": "quantitative", "scale": {"domain": [0, 11], "nice": false, "zero": false}, "axis": null},
     "y": {"field": "v", "type": "quantitative", "scale": {"type": "log", "domain": [1e-17, 10], "nice": false}, "axis": {"orient": "right", "values": [10, 1, 0.1, 0.01, 0.001, 1e-4, 1e-5, 1e-6, 1e-7, 1e-8, 1e-9, 1e-10, 1e-11, 1e-12, 1e-13, 1e-14, 1e-15, 1e-16, 1e-17], "labels": false, "tickSize": -6, "title": null}}
    }},
   {"mark": {"type": "point", "opacity": 0, "clip": true},
    "encoding": {
     "x": {"field": "L", "type": "quantitative", "scale": {"domain": [0, 11], "nice": false, "zero": false}, "axis": null},
     "y": {"field": "v", "type": "quantitative", "scale": {"type": "log", "domain": [1e-17, 10], "nice": false}, "axis": {"orient": "right", "values": [5, 2, 0.5, 0.2, 0.05, 0.02, 0.005, 0.002, 5e-4, 2e-4, 5e-5, 2e-5, 5e-6, 2e-6, 5e-7, 2e-7, 5e-8, 2e-8, 5e-9, 2e-9, 5e-10, 2e-10, 5e-11, 2e-11, 5e-12, 2e-12, 5e-13, 2e-13, 5e-14, 2e-14, 5e-15, 2e-15, 5e-16, 2e-16, 5e-17, 2e-17], "labels": false, "tickSize": -3.5, "title": null}}
    }}
  ],
  "resolve": {"scale": {"color": "independent", "shape": "independent"}, "legend": {"color": "independent", "shape": "independent"}, "axis": {"x": "independent", "y": "independent"}}
 }
]
}
